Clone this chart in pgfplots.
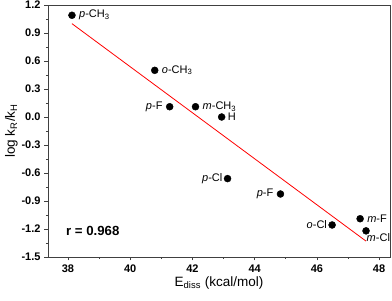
\documentclass[border=0pt]{standalone}
\usepackage{pgfplots}
\pgfplotsset{compat=1.18}
\usepackage{fontspec}
\setmainfont{Liberation Sans}
\begin{document}
\begin{tikzpicture}
\begin{axis}[
  scale only axis,
  width=342pt, height=252pt,
  xmin=37.36, xmax=48.35,
  ymin=-1.5, ymax=1.2,
  xtick={38,40,...,48},
  ytick={-1.5,-1.2,...,1.2},
  minor x tick num=1,
  minor y tick num=1,
  tick align=outside,
  xtick pos=bottom, ytick pos=left,
  major tick length=3.5pt, minor tick length=2pt,
  axis line style={draw=black!75, line width=0.8pt},
  every tick/.style={black!75, line width=0.6pt},
  /pgf/number format/assume math mode=true,
  tick label style={font=\fontsize{11}{13}\selectfont\bfseries},
  yticklabel style={/pgf/number format/fixed, /pgf/number format/fixed zerofill, /pgf/number format/precision=1, xshift=-0.5pt},
  xticklabel style={/pgf/number format/fixed, yshift=-1pt},
  xlabel={E\textsubscript{diss} (kcal/mol)},
  ylabel={log k\textsubscript{R}/k\textsubscript{H}},
  label style={font=\fontsize{13.5}{15}\selectfont},
  xlabel style={yshift=3pt},
  ylabel style={yshift=-3pt},
  clip=false,
]
\addplot[red, line width=0.8pt] coordinates {(38.13,1.00) (47.58,-1.33)};
\addplot[only marks, mark=*, mark size=3.5pt, black,
  nodes near coords, point meta=explicit symbolic,
  every node near coord/.append style={font=\fontsize{11}{13}\selectfont, anchor=\anc, text=black, inner xsep=7pt, inner ysep=1pt, xshift=\dx pt, yshift=\dy pt},
  visualization depends on={value \thisrow{anchor}\as\anc},
  visualization depends on={\thisrow{dx}\as\dx},
  visualization depends on={\thisrow{dy}\as\dy},
] table[meta=label] {
x y label anchor dx dy
38.13 1.09 {\textit{p}-CH\textsubscript{3}} west 0 0
40.79 0.50 {\textit{o}-CH\textsubscript{3}} west 0 0
41.27 0.11 {\textit{p}-F} east 0 0
42.10 0.11 {\textit{m}-CH\textsubscript{3}} west 0 0
42.94 0.00 {H} west -1 0
43.13 -0.66 {\textit{p}-Cl} east 2 0
44.83 -0.825 {\textit{p}-F} east 0 0
46.49 -1.157 {\textit{o}-Cl} east 2 0
47.39 -1.09 {\textit{m}-F} west 0 0
47.58 -1.22 {\textit{m}-Cl} {north west} -6.5 -1
};
\node[anchor=west, font=\fontsize{13.2}{15}\selectfont\bfseries] at (axis cs:37.83,-1.22) {r = 0.968};
\coordinate (ll) at (rel axis cs:0,0);
\coordinate (ur) at (rel axis cs:1,1);
\end{axis}
\pgfresetboundingbox
\path (ll) ++(-48pt,-44pt) coordinate (a);
\path (ur) ++(2pt,5pt) coordinate (b);
\path[use as bounding box] (a) rectangle (b);
\end{tikzpicture}
\end{document}
